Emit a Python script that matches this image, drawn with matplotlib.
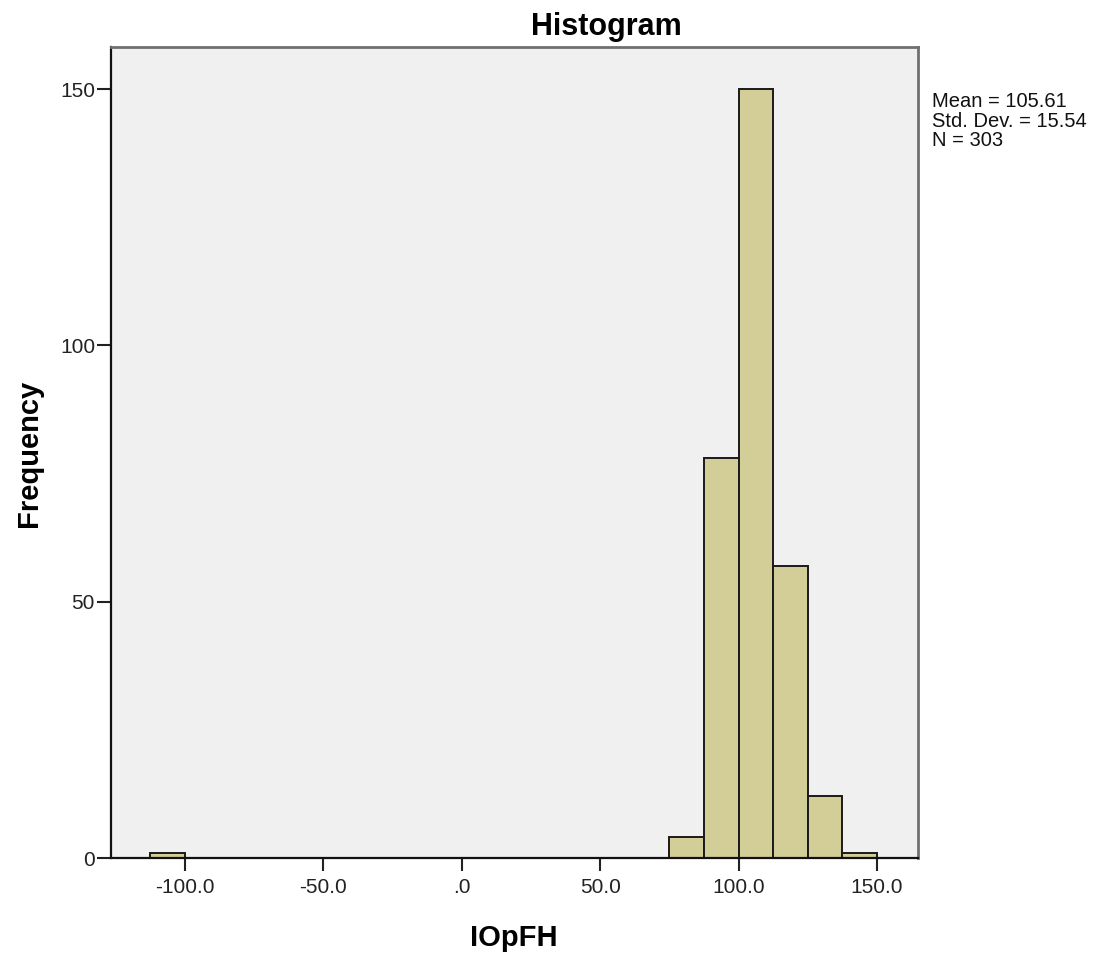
import matplotlib
matplotlib.use("Agg")
import matplotlib.pyplot as plt

# histogram bins (left edges) and their counts
bin_left = [-112.5, 75.0, 87.5, 100.0, 112.5, 125.0, 137.5]
counts = [1, 4, 78, 150, 57, 12, 1]
bin_width = 12.5

x_ticks = [-100, -50, 0, 50, 100, 150]
x_tick_labels = ["-100.0", "-50.0", ".0", "50.0", "100.0", "150.0"]
y_ticks = [0, 50, 100, 150]
y_tick_labels = ["0", "50", "100", "150"]

stats_lines = ["Mean = 105.61", "Std. Dev. = 15.54", "N = 303"]

plt.rcParams['font.family'] = ['Liberation Sans', 'DejaVu Sans']

W, H = 1107, 955
fig = plt.figure(figsize=(W / 100, H / 100), dpi=100)
ax = fig.add_axes([111 / W, 1 - 858 / H, (918 - 111) / W, (858 - 47) / H])
ax.set_facecolor('#F0F0F0')

ax.bar(bin_left, counts, width=bin_width, align='edge', color='#D3CE97',
       edgecolor='#1a1a1a', linewidth=1.4, zorder=2)

ax.set_xlim(-126.7, 164.8)
ax.set_ylim(0, 158.2)
ax.set_xticks(x_ticks)
ax.set_xticklabels(x_tick_labels)
ax.set_yticks(y_ticks)
ax.set_yticklabels(y_tick_labels)
ax.tick_params(axis='x', direction='out', length=9.5, width=1.5, pad=5, labelsize=15, colors='#222222')
ax.tick_params(axis='y', direction='out', length=10, width=1.5, pad=1.5, labelsize=15, colors='#222222')

for s in ['left', 'bottom']:
    ax.spines[s].set_color('#111111')
    ax.spines[s].set_linewidth(1.6)
for s in ['top', 'right']:
    ax.spines[s].set_color('#707070')
    ax.spines[s].set_linewidth(2.0)

fig.text(606 / W, 1 - 35 / H, "Histogram", ha='center', va='baseline',
         fontsize=22, fontweight='bold')
fig.text(29 / W, 1 - 453 / H, "Frequency", ha='center', va='center',
         rotation=90, fontsize=21, fontweight='bold')
fig.text(514 / W, 1 - 938 / H, "IOpFH", ha='center', va='center',
         fontsize=21, fontweight='bold')

fig.text(932 / W, 1 - 92 / H, "\n".join(stats_lines), ha='left', va='top',
         fontsize=14.5, linespacing=1.05, color='#111111')

fig.savefig("out.png", dpi=100)
